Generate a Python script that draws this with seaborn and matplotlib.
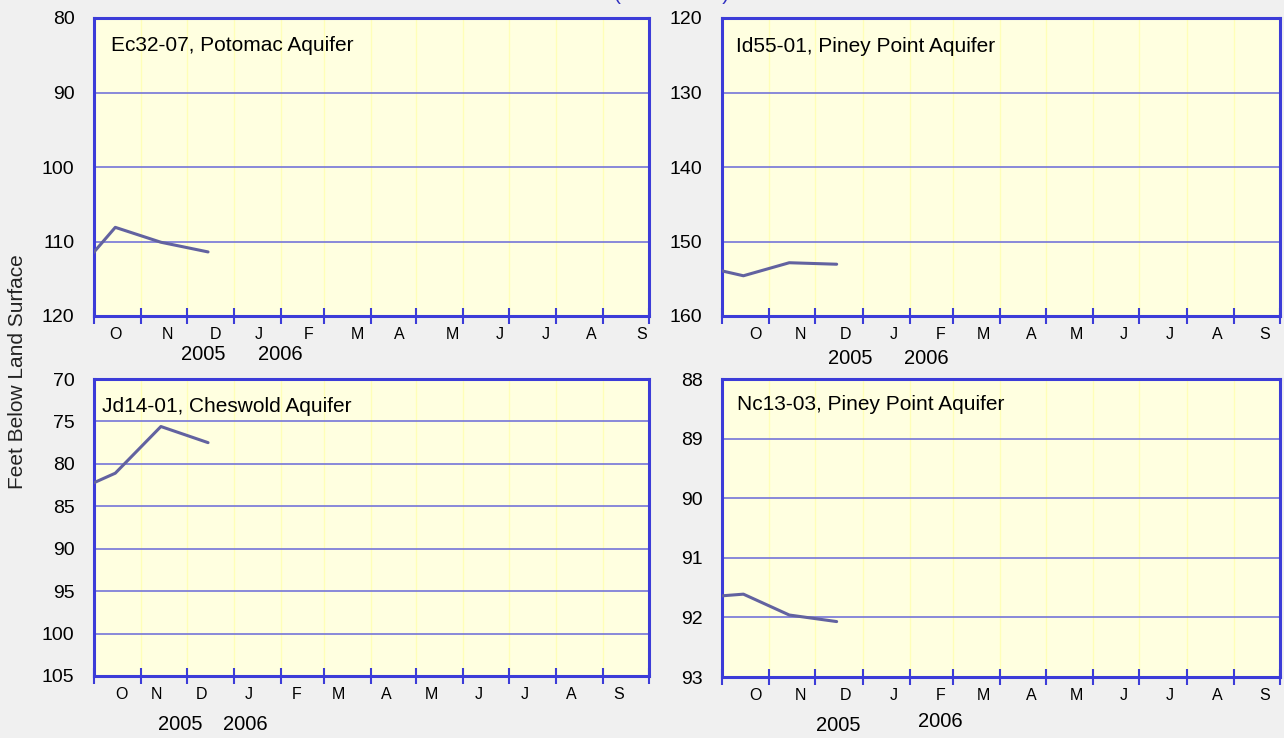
import matplotlib
matplotlib.use("Agg")
import matplotlib.pyplot as plt
import pandas as pd
import seaborn as sns

# water levels, feet below land surface (first point lies before the plotted year)
dates = pd.to_datetime(["2005-09-15", "2005-10-15", "2005-11-14", "2005-12-15"])
ec32_07 = [115.2, 108.1, 110.1, 111.4]
id55_01 = [153.2, 154.6, 152.85, 153.05]
jd14_01 = [83.5, 81.1, 75.6, 77.5]
nc13_03 = [91.67, 91.61, 91.96, 92.07]

wells = ["Ec32-07, Potomac Aquifer", "Id55-01, Piney Point Aquifer",
         "Jd14-01, Cheswold Aquifer", "Nc13-03, Piney Point Aquifer"]
series = [ec32_07, id55_01, jd14_01, nc13_03]
y_ranges = [(80, 120, 10), (120, 160, 10), (70, 105, 5), (88, 93, 1)]
month_letters = ["O", "N", "D", "J", "F", "M", "A", "M", "J", "J", "A", "S"]
year_labels = ["2005", "2006"]

# axes boxes in figure pixels: left, top, right, bottom
boxes = [(94, 18, 649, 316), (722, 18, 1280, 316),
         (94, 379, 649, 676), (722, 379, 1280, 677)]
label_pos = [(0.031, 0.909), (0.025, 0.903), (0.014, 0.909), (0.027, 0.913)]
year_pos = [[(0.196, -0.128), (0.335, -0.128)],
            [(0.229, -0.141), (0.366, -0.141)],
            [(0.155, -0.162), (0.272, -0.162)],
            [(0.208, -0.164), (0.391, -0.148)]]
# day of month where each month letter sits, per panel
letter_days = [
    [14, 17, 19, 16, 18, 22, 19, 24, 24, 24, 23, 25],
    [22] + [20] * 11,
    [18] + [10] * 11,
    [22] + [20] * 11,
]

sns.set_style("white")
plt.rcParams["font.family"] = ["Liberation Sans", "DejaVu Sans"]

W, H = 1284, 738
fig = plt.figure(figsize=(W / 100, H / 100), dpi=100, facecolor="#f0f0f0")

spine_blue = "#3c3cd8"
grid_blue = "#7474d8"
line_col = "#6262a0"

df = pd.DataFrame({
    "date": list(dates) * 4,
    "level": [v for s in series for v in s],
    "well": [w for w in wells for _ in dates],
})

start = pd.Timestamp("2005-10-01")
end = pd.Timestamp("2006-10-01")
month_starts = pd.date_range(start, end, freq="MS")

for i, well in enumerate(wells):
    l, t, r, b = boxes[i]
    ax = fig.add_axes([l / W, 1 - b / H, (r - l) / W, (b - t) / H])
    ax.set_facecolor("#ffffe0")
    sub = df[df["well"] == well]
    sns.lineplot(data=sub, x="date", y="level", ax=ax, color=line_col,
                 linewidth=2.2, zorder=3)

    lo, hi, step = y_ranges[i]
    ax.set_ylim(hi, lo)
    ax.set_yticks(list(range(lo, hi + 1, step)))
    ax.set_xlim(start, end)

    label_days = [m + pd.Timedelta(days=d)
                  for m, d in zip(month_starts[:-1], letter_days[i])]

    ax.set_xticks(month_starts)
    ax.set_xticklabels([""] * len(month_starts))
    ax.set_xticks(label_days, minor=True)
    ax.set_xticklabels(month_letters, minor=True)

    ax.tick_params(axis="x", which="both", bottom=True)
    ax.tick_params(axis="x", which="major", direction="inout", length=12,
                   width=1.5, color=spine_blue)
    ax.tick_params(axis="x", which="minor", length=0, pad=8, labelsize=11.5,
                   labelcolor="black")
    ax.tick_params(axis="y", length=0, pad=14, labelsize=14, labelcolor="black")

    ax.grid(axis="y", color=grid_blue, linewidth=1.2, zorder=1)
    ax.grid(axis="x", which="major", color="#ffffb8", linewidth=1, zorder=1)
    ax.set_axisbelow(True)
    for sp in ax.spines.values():
        sp.set_color(spine_blue)
        sp.set_linewidth(2.2)

    ax.set_xlabel("")
    ax.set_ylabel("")

    tx, ty = label_pos[i]
    ax.text(tx, ty, well, transform=ax.transAxes, fontsize=15,
            va="center", ha="left", color="black")

    for (yx, yy), yl in zip(year_pos[i], year_labels):
        ax.text(yx, yy, yl, transform=ax.transAxes, fontsize=14.5,
                ha="center", va="center", color="black")

fig.text(18 / W, 0.496, "Feet Below Land Surface", rotation=90,
         fontsize=15, ha="center", va="center", color="#222222")

# title mostly cut off at the top edge, only the parentheses peek in
fig.text(614 / W, 1.0, "(Provisional)", fontsize=15, ha="left",
         va="baseline", color="#3030c0")

fig.savefig("out.png", dpi=100, facecolor=fig.get_facecolor())
